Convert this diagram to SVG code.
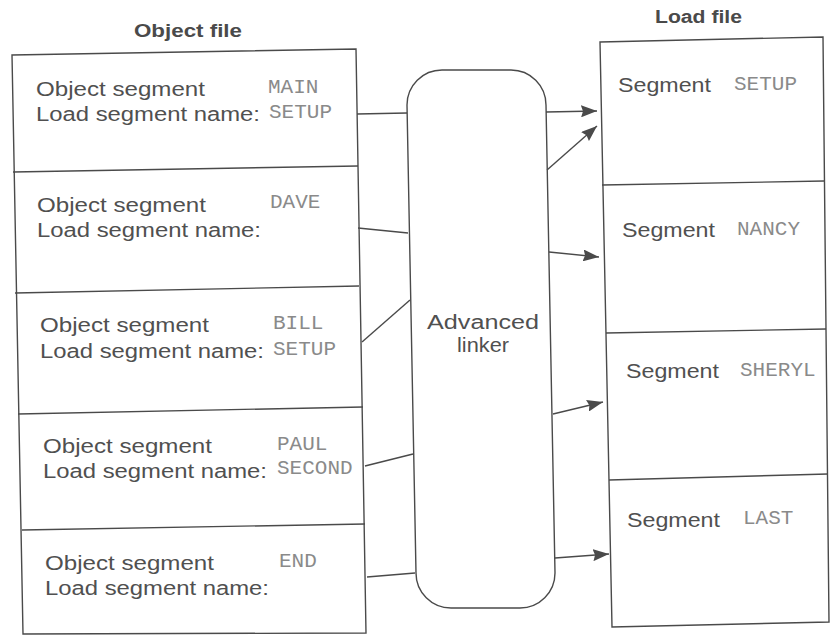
<svg xmlns="http://www.w3.org/2000/svg" width="830" height="635" viewBox="0 0 830 635">
<style>
.ln{fill:none;stroke:#4a4a4a;stroke-width:1.4}
.sans{font-family:"Liberation Sans",Arial,sans-serif;font-size:20px;fill:#505050}
.mono{font-family:"Liberation Mono","Courier New",monospace;font-size:21px;fill:#8a8a8a}
.title{font-family:"Liberation Sans",Arial,sans-serif;font-size:18px;font-weight:bold;fill:#4a4a4a}
.con{fill:none;stroke:#4a4a4a;stroke-width:1.4}
</style>
<defs>
<marker id="ah" viewBox="0 0 16 12" refX="16" refY="6" markerWidth="16" markerHeight="12" markerUnits="userSpaceOnUse" orient="auto">
<path d="M0,0 L16,6 L0,12 L2,6 z" fill="#4a4a4a"/>
</marker>
</defs>
<rect width="830" height="635" fill="#ffffff"/>

<text class="title" x="134" y="37" textLength="108" lengthAdjust="spacingAndGlyphs">Object file</text>
<text class="title" x="655" y="23" textLength="87" lengthAdjust="spacingAndGlyphs">Load file</text>

<g id="object-file">
<path class="ln" d="M12,55 L356,49 L366,633 L23,634 Z"/>
</g>
<g id="obj-main">
<path class="ln" d="M13,172 L358,166"/>
<text class="sans" x="36" y="96" textLength="169" lengthAdjust="spacingAndGlyphs">Object segment</text>
<text class="mono" x="268" y="93">MAIN</text>
<text class="sans" x="36" y="121" textLength="224" lengthAdjust="spacingAndGlyphs">Load segment name:</text>
<text class="mono" x="269" y="118">SETUP</text>
</g>
<g id="obj-dave">
<path class="ln" d="M15,293 L359,286"/>
<text class="sans" x="37" y="212" textLength="169" lengthAdjust="spacingAndGlyphs">Object segment</text>
<text class="mono" x="270" y="208">DAVE</text>
<text class="sans" x="37" y="237" textLength="224" lengthAdjust="spacingAndGlyphs">Load segment name:</text>
</g>
<g id="obj-bill">
<path class="ln" d="M18,414 L363,407"/>
<text class="sans" x="40" y="332" textLength="169" lengthAdjust="spacingAndGlyphs">Object segment</text>
<text class="mono" x="273" y="329">BILL</text>
<text class="sans" x="40" y="358" textLength="224" lengthAdjust="spacingAndGlyphs">Load segment name:</text>
<text class="mono" x="273" y="355">SETUP</text>
</g>
<g id="obj-paul">
<path class="ln" d="M22,530 L365,524"/>
<text class="sans" x="43" y="453" textLength="169" lengthAdjust="spacingAndGlyphs">Object segment</text>
<text class="mono" x="277" y="450">PAUL</text>
<text class="sans" x="43" y="478" textLength="224" lengthAdjust="spacingAndGlyphs">Load segment name:</text>
<text class="mono" x="277" y="474">SECOND</text>
</g>
<g id="obj-end">
<text class="sans" x="45" y="570" textLength="169" lengthAdjust="spacingAndGlyphs">Object segment</text>
<text class="mono" x="279" y="567">END</text>
<text class="sans" x="45" y="595" textLength="224" lengthAdjust="spacingAndGlyphs">Load segment name:</text>
</g>

<g id="linker">
<path class="ln" d="M407,105 A35,35 0 0 1 442,70 L511,70 A35,35 0 0 1 546,105 L555,573 A35,35 0 0 1 520,608 L451,608 A35,35 0 0 1 416,573 Z"/>
<text class="sans" x="483" y="329" text-anchor="middle" textLength="112" lengthAdjust="spacingAndGlyphs">Advanced</text>
<text class="sans" x="483" y="352" text-anchor="middle" textLength="52" lengthAdjust="spacingAndGlyphs">linker</text>
</g>

<g id="load-file">
<path class="ln" d="M600,42 L823,37 L829,622 L612,627 Z"/>
</g>
<g id="seg-setup">
<path class="ln" d="M602,185 L824,181"/>
<text class="sans" x="618" y="92" textLength="93" lengthAdjust="spacingAndGlyphs">Segment</text>
<text class="mono" x="734" y="90">SETUP</text>
</g>
<g id="seg-nancy">
<path class="ln" d="M606,333 L826,329"/>
<text class="sans" x="622" y="237" textLength="93" lengthAdjust="spacingAndGlyphs">Segment</text>
<text class="mono" x="737" y="235">NANCY</text>
</g>
<g id="seg-sheryl">
<path class="ln" d="M609,480 L828,474"/>
<text class="sans" x="626" y="378" textLength="93" lengthAdjust="spacingAndGlyphs">Segment</text>
<text class="mono" x="740" y="376">SHERYL</text>
</g>
<g id="seg-last">
<text class="sans" x="627" y="527" textLength="93" lengthAdjust="spacingAndGlyphs">Segment</text>
<text class="mono" x="743" y="524">LAST</text>
</g>

<g id="connectors">
<path class="con" d="M357,114 L407,113"/>
<path class="con" d="M358,228 L408,233"/>
<path class="con" d="M362,342 L410,300"/>
<path class="con" d="M365,466 L413,454"/>
<path class="con" d="M367,577 L415,573"/>
<path class="con" d="M546,112 L597,111" marker-end="url(#ah)"/>
<path class="con" d="M547,170 L597,126" marker-end="url(#ah)"/>
<path class="con" d="M549,252 L599,257" marker-end="url(#ah)"/>
<path class="con" d="M553,414 L603,402" marker-end="url(#ah)"/>
<path class="con" d="M555,558 L609,554" marker-end="url(#ah)"/>
</g>
</svg>
